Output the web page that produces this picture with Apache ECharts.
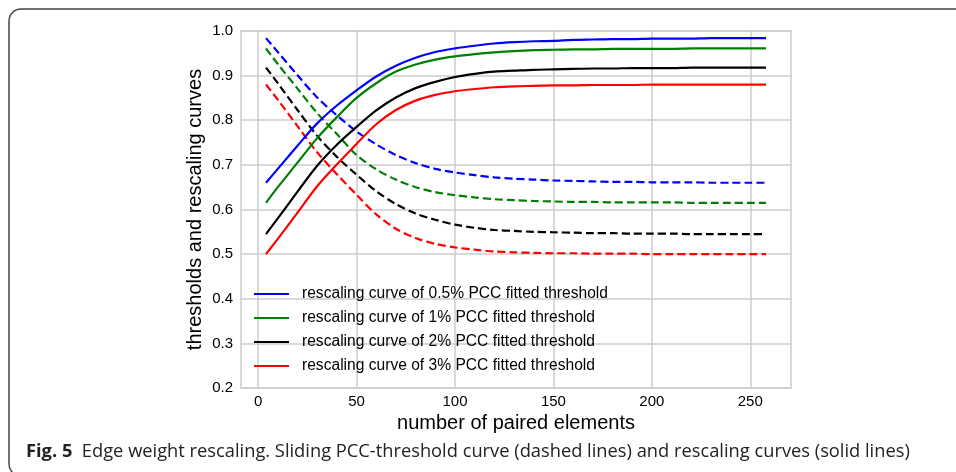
<!DOCTYPE html>
<html>
<head>
<meta charset="utf-8">
<title>Edge weight rescaling</title>
<script src="https://cdn.jsdelivr.net/npm/echarts@6/dist/echarts.min.js"></script>
<style>
  html, body { margin: 0; padding: 0; background: #fff; }
  .rescale-line { width: 956px; height: 472px; }
</style>
</head>
<body>
<div class="rescale-line"></div>
<script>
// number of paired elements (x)
let xs = [4, 10, 20, 30, 40, 50, 60, 70, 80, 90, 100, 110, 120, 130, 140, 150, 160, 170, 180, 190, 200, 210, 220, 230, 240, 250, 258];

// rescaling curves (solid)
let blueSolid  = [0.660, 0.691, 0.743, 0.793, 0.833, 0.867, 0.898, 0.922, 0.940, 0.953, 0.961, 0.967, 0.972, 0.975, 0.977, 0.978, 0.980, 0.981, 0.982, 0.982, 0.983, 0.983, 0.983, 0.984, 0.984, 0.984, 0.984];
let greenSolid = [0.615, 0.650, 0.705, 0.760, 0.807, 0.850, 0.883, 0.909, 0.925, 0.936, 0.943, 0.948, 0.952, 0.955, 0.957, 0.958, 0.959, 0.959, 0.960, 0.960, 0.960, 0.960, 0.961, 0.961, 0.961, 0.961, 0.961];
let blackSolid = [0.545, 0.580, 0.640, 0.698, 0.745, 0.785, 0.822, 0.851, 0.872, 0.886, 0.897, 0.904, 0.909, 0.911, 0.913, 0.914, 0.915, 0.916, 0.916, 0.917, 0.917, 0.917, 0.918, 0.918, 0.918, 0.918, 0.918];
let redSolid   = [0.500, 0.534, 0.593, 0.652, 0.701, 0.747, 0.791, 0.823, 0.844, 0.857, 0.865, 0.870, 0.874, 0.876, 0.877, 0.878, 0.878, 0.879, 0.879, 0.879, 0.880, 0.880, 0.880, 0.880, 0.880, 0.880, 0.880];

// sliding PCC thresholds (dashed)
let blueDash  = [0.984, 0.953, 0.901, 0.851, 0.811, 0.775, 0.746, 0.722, 0.704, 0.691, 0.683, 0.677, 0.672, 0.669, 0.667, 0.665, 0.664, 0.663, 0.662, 0.662, 0.661, 0.661, 0.661, 0.660, 0.660, 0.660, 0.660];
let greenDash = [0.961, 0.926, 0.871, 0.816, 0.769, 0.722, 0.690, 0.667, 0.650, 0.639, 0.632, 0.627, 0.623, 0.621, 0.619, 0.618, 0.617, 0.617, 0.616, 0.616, 0.616, 0.616, 0.615, 0.615, 0.615, 0.615, 0.615];
let blackDash = [0.918, 0.883, 0.823, 0.765, 0.718, 0.678, 0.641, 0.612, 0.591, 0.577, 0.566, 0.559, 0.554, 0.552, 0.550, 0.549, 0.548, 0.547, 0.547, 0.546, 0.546, 0.546, 0.545, 0.545, 0.545, 0.545, 0.545];
let redDash   = [0.880, 0.846, 0.787, 0.728, 0.679, 0.633, 0.589, 0.557, 0.536, 0.523, 0.515, 0.510, 0.506, 0.504, 0.503, 0.502, 0.502, 0.501, 0.501, 0.501, 0.500, 0.500, 0.500, 0.500, 0.500, 0.500, 0.500];

let names = [
  'rescaling curve of 0.5% PCC fitted threshold',
  'rescaling curve of 1% PCC fitted threshold',
  'rescaling curve of 2% PCC fitted threshold',
  'rescaling curve of 3% PCC fitted threshold'
];
let colors = ['#0000ff', '#008000', '#000000', '#ff0000'];
let xTicks = [0, 50, 100, 150, 200, 250];

(function () {

  let myChart = echarts.init(document.querySelector(".rescale-line"));

  function pairs(ys) {
    return xs.map((x, i) => [x, ys[i]]);
  }

  function line(name, ys, color, dashed) {
    return {
      name: name,
      type: 'line',
      data: pairs(ys),
      symbol: 'none',
      smooth: 0.3,
      z: dashed ? 2 : 3,
      lineStyle: {
        color: color,
        width: 2.2,
        type: dashed ? [8, 4] : 'solid'
      },
      itemStyle: { color: color }
    };
  }

  let solids = [blueSolid, greenSolid, blackSolid, redSolid];
  let dashes = [blueDash, greenDash, blackDash, redDash];
  let series = [];
  solids.forEach((ys, i) => series.push(line(names[i], ys, colors[i], false)));
  dashes.forEach((ys, i) => series.push(line('threshold ' + i, ys, colors[i], true)));

  let font = 'Liberation Sans, Arial, sans-serif';

  let option = {
    animation: false,
    grid: {
      left: 241,
      top: 31,
      width: 550,
      height: 357,
      show: true,
      borderColor: '#cccccc',
      borderWidth: 1.5
    },
    legend: {
      orient: 'vertical',
      left: 254,
      top: 286,
      padding: 0,
      data: names,
      icon: 'rect',
      itemWidth: 35,
      itemHeight: 2.2,
      itemGap: 8,
      textStyle: {
        color: '#000',
        fontSize: 15.6,
        fontFamily: font,
        padding: [0, 0, 0, 8]
      }
    },
    xAxis: {
      type: 'value',
      min: -8.7,
      max: 270.7,
      name: 'number of paired elements',
      nameLocation: 'middle',
      nameGap: 22,
      nameTextStyle: { color: '#000', fontSize: 20, fontFamily: font },
      axisLine: { show: false },
      axisTick: { show: false, customValues: xTicks },
      axisLabel: {
        customValues: xTicks,
        color: '#000',
        fontSize: 15,
        fontFamily: font,
        margin: 6
      },
      splitLine: { lineStyle: { color: '#cccccc', width: 1.5 } }
    },
    yAxis: {
      type: 'value',
      min: 0.2,
      max: 1.0,
      interval: 0.1,
      name: 'thresholds and rescaling curves',
      nameLocation: 'middle',
      nameGap: 36,
      nameMoveOverlap: false,
      nameTextStyle: { color: '#000', fontSize: 20, fontFamily: font },
      axisLine: { show: false },
      axisTick: { show: false },
      axisLabel: {
        color: '#000',
        fontSize: 15,
        fontFamily: font,
        margin: 8,
        formatter: v => v.toFixed(1)
      },
      splitLine: { lineStyle: { color: '#cccccc', width: 1.5 } }
    },
    graphic: [
      {
        type: 'rect',
        z: -1,
        shape: { x: 9, y: 9, width: 1000, height: 467, r: 12 },
        style: { fill: 'none', stroke: '#444', lineWidth: 1.5 }
      },
      {
        type: 'text',
        left: 26,
        top: 443,
        style: {
          text: '{b|Fig. 5}  Edge weight rescaling. Sliding PCC-threshold curve (dashed lines) and rescaling curves (solid lines)',
          fontFamily: 'Open Sans, sans-serif',
          fontSize: 18.3,
          fill: '#222',
          rich: {
            b: { fontFamily: 'Open Sans, sans-serif', fontSize: 18.3, fontWeight: 'bold', fill: '#222' }
          }
        }
      }
    ],
    series: series
  };

  myChart.setOption(option);
  window.addEventListener("resize", function () {
    myChart.resize();
  });

})();
</script>
</body>
</html>
